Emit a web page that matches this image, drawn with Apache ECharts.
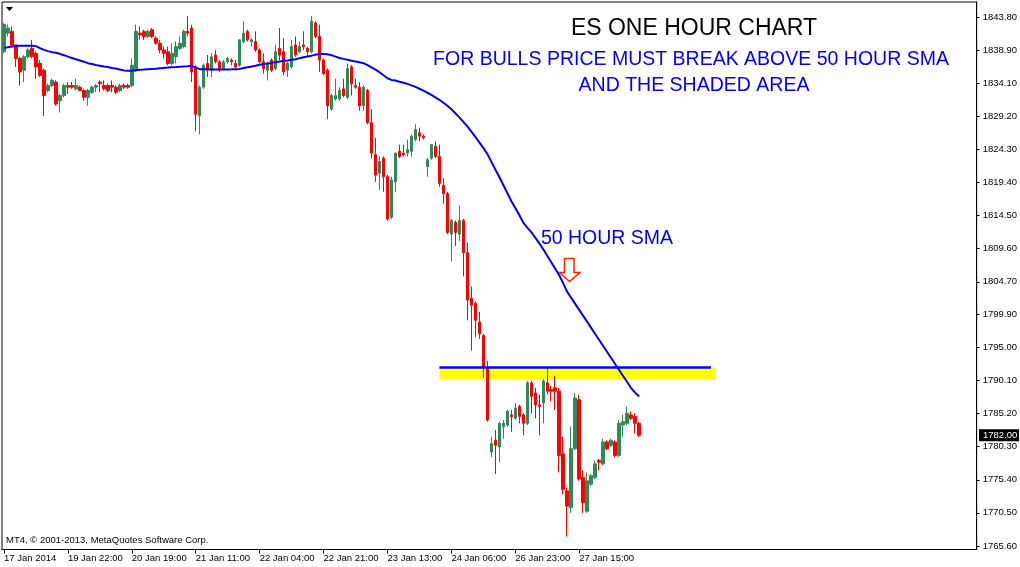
<!DOCTYPE html>
<html>
<head>
<meta charset="utf-8">
<script src="https://cdn.jsdelivr.net/npm/echarts@6/dist/echarts.min.js"></script>
<style>
html,body{margin:0;padding:0;background:#fff;}
#chart{width:1020px;height:567px;}
</style>
</head>
<body>
<div id="chart"></div>
<script>
// ---- data ----
// each candle: [open, close, low, high]
const candles = [
[1838.75,1842.75,1838.5,1843.0],[1841.5,1842.25,1841.0,1842.75],[1841.75,1839.75,1839.5,1842.5],[1839.75,1837.75,1836.5,1839.75],
[1837.75,1835.75,1833.75,1838.0],[1836.0,1838.0,1834.25,1838.25],[1838.0,1839.0,1837.75,1839.25],[1839.25,1838.0,1837.75,1840.5],
[1838.5,1836.5,1834.75,1838.75],[1837.0,1835.25,1835.0,1837.5],[1836.0,1832.25,1829.25,1836.25],[1833.0,1833.75,1832.75,1834.0],
[1833.75,1834.5,1833.5,1834.75],[1834.25,1831.0,1830.75,1834.5],[1831.5,1832.25,1829.75,1832.5],[1832.25,1833.75,1832.0,1834.0],
[1833.75,1833.5,1832.5,1834.25],[1833.75,1833.5,1833.25,1834.25],[1833.25,1833.75,1833.0,1834.75],[1833.5,1833.0,1833.0,1833.75],
[1833.0,1832.0,1831.5,1833.25],[1832.0,1833.0,1830.75,1833.25],[1832.75,1833.5,1832.5,1833.75],[1833.5,1833.75,1832.75,1834.0],
[1834.25,1834.0,1832.75,1834.5],[1833.75,1833.25,1833.0,1834.5],[1833.75,1833.0,1832.75,1834.0],[1833.75,1833.5,1832.75,1834.5],
[1833.5,1832.75,1832.5,1833.75],[1833.0,1833.75,1832.75,1834.0],[1833.75,1833.5,1833.25,1834.0],[1833.75,1833.5,1833.25,1834.0],
[1833.75,1836.75,1833.5,1837.75],[1836.0,1841.75,1835.75,1842.75],[1841.5,1841.25,1840.5,1842.5],[1841.75,1841.0,1840.5,1842.0],
[1841.0,1841.75,1840.75,1842.0],[1842.0,1841.0,1840.75,1842.25],[1840.75,1840.0,1839.75,1841.0],[1840.0,1839.0,1838.5,1840.5],
[1839.0,1838.5,1837.75,1839.5],[1838.75,1837.0,1836.75,1839.5],[1837.0,1838.5,1836.75,1840.0],[1838.0,1839.5,1837.0,1840.25],
[1839.25,1840.0,1839.0,1841.0],[1839.5,1841.75,1839.25,1842.0],[1841.75,1841.5,1841.0,1844.0],[1842.25,1835.75,1834.25,1842.75],
[1836.5,1829.5,1827.0,1836.75],[1829.25,1833.5,1826.5,1833.75],[1833.5,1836.75,1833.25,1837.0],[1837.0,1836.0,1835.0,1838.25],
[1836.0,1838.0,1835.0,1838.5],[1838.25,1837.25,1837.0,1839.0],[1837.25,1836.0,1835.75,1837.5],[1836.25,1837.25,1836.0,1837.5],
[1837.25,1837.75,1837.0,1838.0],[1837.5,1837.25,1836.75,1837.75],[1837.0,1836.5,1836.25,1837.5],[1836.75,1840.5,1836.5,1840.5],
[1840.25,1841.5,1840.0,1843.25],[1841.75,1840.5,1840.25,1842.0],[1840.25,1840.5,1839.5,1840.75],[1840.25,1839.0,1838.75,1841.75],
[1839.0,1837.25,1837.0,1839.25],[1837.25,1836.25,1835.5,1838.5],[1836.0,1837.0,1834.5,1837.25],[1837.5,1836.0,1835.75,1837.75],
[1836.25,1838.75,1836.0,1839.75],[1839.25,1838.25,1837.5,1842.25],[1838.75,1835.75,1835.25,1840.75],[1836.0,1837.0,1835.0,1837.25],
[1836.5,1839.5,1836.25,1840.5],[1839.75,1838.25,1838.0,1841.0],[1838.75,1839.5,1838.5,1840.25],[1839.75,1839.5,1839.0,1841.75],
[1839.25,1838.75,1838.0,1839.5],[1838.75,1843.25,1838.5,1844.0],[1843.0,1841.0,1840.75,1843.25],[1841.0,1837.5,1835.75,1842.75],
[1837.5,1835.5,1835.25,1837.75],[1836.0,1830.75,1828.75,1836.25],[1830.25,1832.25,1830.0,1832.5],[1831.75,1832.25,1831.5,1834.75],
[1831.75,1833.0,1831.5,1833.5],[1833.25,1832.25,1832.0,1834.75],[1832.0,1836.25,1831.75,1837.0],[1836.5,1834.0,1832.25,1836.75],
[1833.75,1833.5,1833.25,1834.75],[1833.5,1830.75,1830.0,1834.25],[1830.75,1833.5,1830.0,1833.75],[1833.0,1828.25,1828.0,1833.25],
[1828.25,1823.75,1823.0,1830.25],[1823.5,1820.5,1819.5,1826.0],[1820.75,1822.5,1818.25,1823.25],[1823.0,1820.25,1818.0,1823.25],
[1820.25,1814.0,1813.75,1820.5],[1814.25,1819.75,1814.0,1820.25],[1819.5,1823.75,1818.0,1823.75],[1824.0,1823.25,1823.0,1825.0],
[1823.75,1823.5,1823.25,1825.0],[1823.75,1824.25,1823.25,1825.75],[1824.0,1826.25,1823.25,1826.5],[1825.75,1827.25,1825.5,1828.0],
[1826.75,1826.25,1825.5,1827.5],[1826.25,1826.0,1825.75,1826.5],[1821.75,1822.75,1820.25,1823.0],[1823.0,1825.0,1822.75,1825.0],
[1824.75,1823.25,1823.0,1825.5],[1823.25,1819.25,1818.75,1825.0],[1819.0,1817.75,1816.25,1820.0],[1817.75,1812.0,1811.75,1818.0],
[1811.75,1813.75,1807.75,1814.0],[1813.5,1812.0,1810.0,1813.75],[1811.75,1813.75,1810.75,1816.0],[1813.75,1809.0,1805.5,1814.0],
[1809.0,1802.0,1799.0,1810.5],[1802.25,1801.25,1794.5,1804.0],[1801.5,1799.0,1796.5,1801.75],[1798.75,1797.0,1796.25,1800.25],
[1796.75,1792.0,1790.5,1797.0],[1792.0,1784.25,1784.0,1793.0],[1779.5,1780.75,1778.75,1781.75],[1781.25,1780.5,1776.25,1782.75],
[1780.25,1783.75,1778.0,1784.0],[1783.25,1783.75,1781.5,1784.25],[1783.5,1785.5,1783.25,1785.75],[1785.0,1784.75,1782.5,1785.75],
[1784.5,1786.0,1784.25,1786.75],[1786.25,1784.75,1783.75,1786.5],[1785.0,1783.75,1782.0,1785.25],[1783.75,1789.75,1783.5,1790.0],
[1789.75,1787.75,1785.25,1790.0],[1788.25,1786.5,1784.5,1789.0],[1786.5,1786.25,1782.0,1788.0],[1786.75,1790.0,1783.75,1790.25],
[1789.75,1788.5,1788.0,1792.0],[1788.75,1788.5,1787.0,1789.25],[1789.0,1788.5,1785.75,1790.75],[1788.5,1779.0,1776.5,1789.0],
[1779.25,1774.0,1773.25,1781.75],[1773.75,1771.5,1767.0,1774.25],[1771.25,1780.0,1770.5,1783.25],[1780.0,1787.5,1779.75,1788.25],
[1787.25,1775.5,1775.25,1788.0],[1775.75,1772.0,1770.5,1776.75],[1770.75,1775.25,1770.5,1776.5],[1774.75,1776.0,1774.5,1776.25],
[1775.75,1777.75,1775.5,1778.25],[1778.25,1778.0,1776.75,1778.5],[1777.75,1781.0,1777.5,1781.5],[1781.0,1780.0,1779.75,1781.25],
[1780.5,1781.25,1780.25,1781.5],[1781.0,1779.0,1778.75,1781.25],[1779.0,1783.75,1778.75,1784.25],[1783.5,1784.0,1781.75,1785.0],
[1783.75,1785.25,1783.5,1786.25],[1785.0,1784.5,1784.25,1785.5],[1784.75,1783.75,1782.25,1785.25],[1783.75,1782.0,1781.75,1784.0]
];

// 50-hour simple moving average, as drawn
const sma50 = [
1839.30,1839.42,1839.52,1839.60,1839.64,1839.64,1839.64,1839.64,1839.57,1839.27,
1839.01,1838.83,1838.68,1838.58,1838.43,1838.23,1838.01,1837.82,1837.63,1837.45,
1837.27,1837.05,1836.93,1836.78,1836.68,1836.56,1836.47,1836.34,1836.26,1836.11,
1835.98,1835.93,1835.93,1836.01,1836.08,1836.11,1836.16,1836.20,1836.23,1836.31,
1836.35,1836.39,1836.44,1836.47,1836.51,1836.56,1836.60,1836.65,1836.38,1836.16,
1836.13,1836.13,1836.12,1836.11,1836.10,1836.10,1836.11,1836.13,1836.16,1836.20,
1836.34,1836.45,1836.56,1836.68,1836.82,1836.93,1837.00,1837.09,1837.20,1837.31,
1837.39,1837.46,1837.54,1837.64,1837.79,1837.92,1838.04,1838.16,1838.31,1838.41,
1838.41,1838.38,1838.23,1838.01,1837.82,1837.68,1837.54,1837.42,1837.30,1837.17,
1837.05,1836.75,1836.41,1836.08,1835.71,1835.27,1834.82,1834.57,1834.48,1834.30,
1834.15,1833.98,1833.77,1833.53,1833.26,1832.97,1832.67,1832.37,1832.00,1831.63,
1831.19,1830.74,1830.22,1829.63,1829.03,1828.37,1827.70,1826.93,1826.14,1825.32,
1824.51,1823.62,1822.48,1821.32,1820.21,1819.02,1817.83,1816.66,1815.62,1814.57,
1813.45,1812.71,1812.04,1811.23,1810.41,1809.52,1808.56,1807.59,1806.63,1805.66,
1804.47,1803.21,1802.32,1801.43,1800.54,1799.65,1798.76,1797.87,1796.98,1796.09,
1795.20,1794.31,1793.42,1792.53,1791.64,1790.75,1789.86,1788.97,1788.30,1787.71
];

const timeLabels = ['17 Jan 2014','19 Jan 22:00','20 Jan 19:00','21 Jan 11:00','22 Jan 04:00',
                    '22 Jan 21:00','23 Jan 13:00','24 Jan 06:00','26 Jan 23:00','27 Jan 15:00'];
const timeLabelBars = [0,16,32,48,64,80,96,112,128,144];
const priceTicks = [1843.80,1838.90,1834.10,1829.20,1824.30,1819.40,1814.50,1809.60,1804.70,
                    1799.90,1795.00,1790.10,1785.20,1780.30,1775.40,1770.50,1765.60];
const lastClose = 1782.00;
const priceMin = 1765.08, priceMax = 1846.10;
const totalSlots = 244;
const zoneTop = 1792.0, zoneBottom = 1790.25, zoneStartBar = 109, zoneEndBar = 178;
const resistanceLevel = 1792.1, resistanceEndBar = 177;

// ---- chart ----
const categories = [];
for (let i = 0; i < totalSlots; i++) categories.push('b' + i);
const labelMap = {};
timeLabelBars.forEach((b, i) => { labelMap[b] = timeLabels[i]; });
const isLabelled = (idx) => labelMap[idx] !== undefined;

const FONT = 'Liberation Sans';
const chart = echarts.init(document.getElementById('chart'), null, {renderer: 'canvas'});

chart.setOption({
  animation: false,
  backgroundColor: '#fff',
  grid: {left: 2, right: 43, top: 2, bottom: 17.5, show: true, borderColor: '#000', borderWidth: 1, backgroundColor: '#fff'},
  xAxis: {
    type: 'category', data: categories, boundaryGap: true,
    axisLine: {show: true, lineStyle: {color: '#000', width: 1}},
    axisTick: {show: true, alignWithLabel: true, interval: isLabelled, length: 4, lineStyle: {color: '#000'}},
    axisLabel: {interval: isLabelled, formatter: (v, idx) => labelMap[idx] || '', align: 'left',
                fontSize: 9.5, color: '#000', fontFamily: FONT, margin: 4},
    splitLine: {show: false}
  },
  yAxis: {
    type: 'value', position: 'right', min: priceMin, max: priceMax, scale: true,
    axisLine: {show: true, lineStyle: {color: '#000', width: 1}},
    axisTick: {show: true, length: 3, customValues: priceTicks, lineStyle: {color: '#000'}},
    axisLabel: {customValues: priceTicks, formatter: v => v.toFixed(2), fontSize: 9.5,
                color: '#000', fontFamily: FONT, margin: 6},
    splitLine: {show: false}
  },
  series: [
    {
      type: 'line', data: [], z: 1, silent: true,
      markArea: {silent: true, itemStyle: {color: '#ffff00', opacity: 1},
        data: [[{xAxis: zoneStartBar, yAxis: zoneTop}, {xAxis: zoneEndBar, yAxis: zoneBottom}]]},
      markLine: {silent: true, symbol: ['none', 'none'], label: {show: false},
        lineStyle: {color: '#0000ff', width: 2.5, type: 'solid'},
        data: [[{xAxis: zoneStartBar, yAxis: resistanceLevel}, {xAxis: resistanceEndBar, yAxis: resistanceLevel}]]}
    },
    {
      type: 'candlestick', data: candles, z: 3, barWidth: 3,
      itemStyle: {color: '#2e8b57', color0: '#ff0000', borderColor: '#2e8b57', borderColor0: '#ff0000', borderWidth: 1}
    },
    {
      type: 'line', data: sma50, z: 4, symbol: 'none', smooth: false,
      lineStyle: {color: '#0000ff', width: 2}
    }
  ]
});

const yLast = chart.convertToPixel({yAxisIndex: 0}, lastClose);
chart.setOption({
  graphic: [
    {type: 'text', left: 'auto', style: {text: 'ES ONE HOUR CHART', x: 694, y: 29, align: 'center', verticalAlign: 'middle',
      fill: '#000', font: '23px "Liberation Sans"'}},
    {type: 'text', style: {text: 'FOR BULLS PRICE MUST BREAK ABOVE 50 HOUR SMA', x: 691, y: 60, align: 'center', verticalAlign: 'middle',
      fill: '#0000ff', font: '19.5px "Liberation Sans"'}},
    {type: 'text', style: {text: 'AND THE SHADED AREA', x: 694, y: 86, align: 'center', verticalAlign: 'middle',
      fill: '#0000ff', font: '19.5px "Liberation Sans"'}},
    {type: 'text', style: {text: '50 HOUR SMA', x: 607, y: 239, align: 'center', verticalAlign: 'middle',
      fill: '#0000ff', font: '19.5px "Liberation Sans"'}},
    {type: 'polygon', shape: {points: [[564.5,258.5],[574,258.5],[574,272.5],[580,272.5],[569.5,281.5],[559.5,272.5],[564.5,272.5]]},
      style: {fill: '#fff', stroke: '#ff2200', lineWidth: 1.5}},
    {type: 'text', style: {text: 'MT4, \u00a9 2001-2013, MetaQuotes Software Corp.', x: 6, y: 540, align: 'left', verticalAlign: 'middle',
      fill: '#000', font: '9.5px "Liberation Sans"'}},
    {type: 'polygon', shape: {points: [[6,7],[13,7],[9.5,11]]}, style: {fill: '#000'}},
    {type: 'rect', shape: {x: 979, y: yLast - 6, width: 40, height: 12}, style: {fill: '#000'}, z: 100},
    {type: 'text', style: {text: lastClose.toFixed(2), x: 983, y: yLast, align: 'left', verticalAlign: 'middle',
      fill: '#fff', font: '9.5px "Liberation Sans"'}, z: 101}
  ]
});
</script>
</body>
</html>
